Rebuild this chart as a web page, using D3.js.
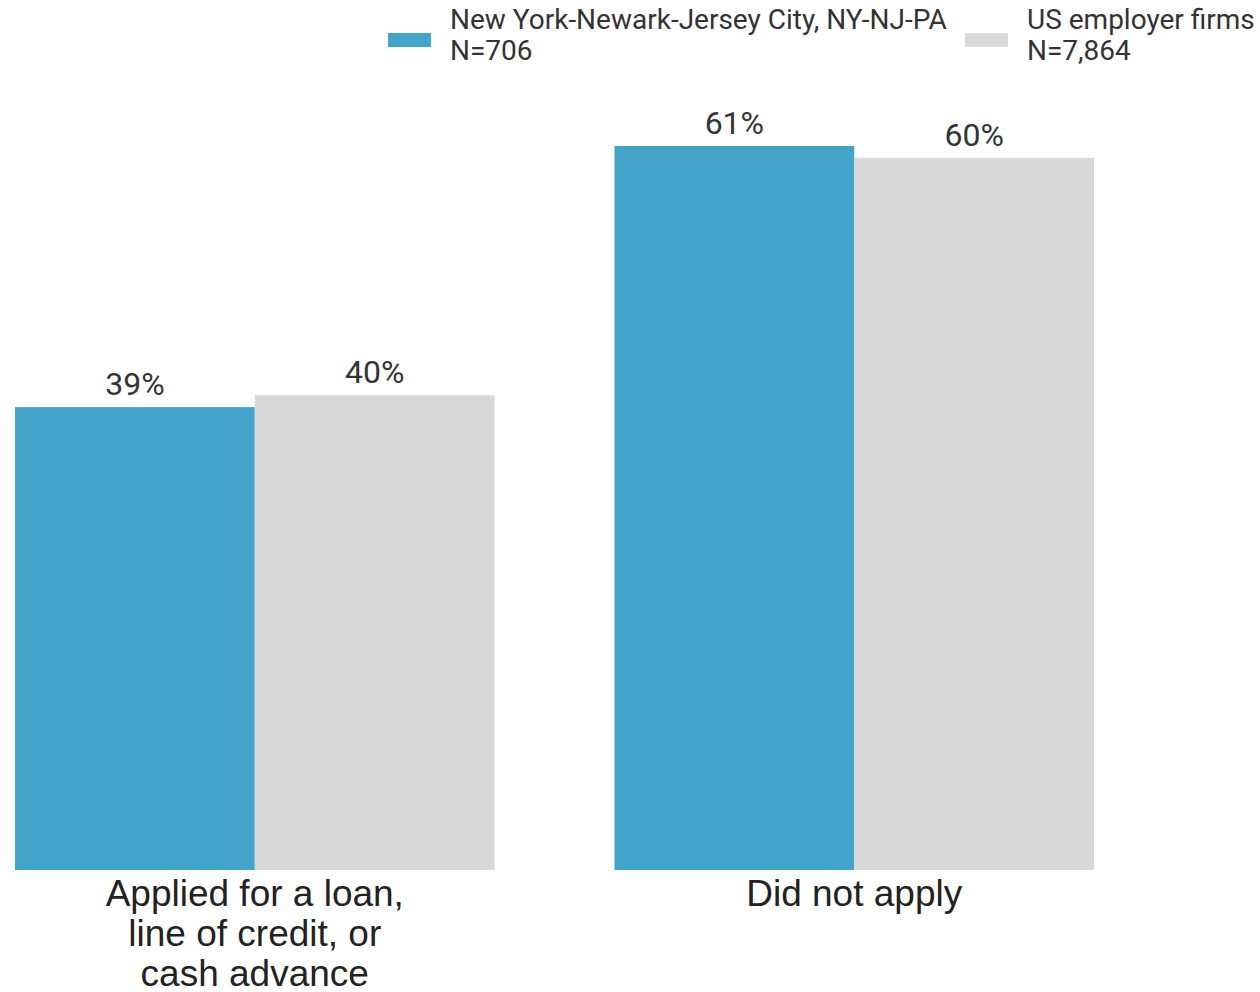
<!DOCTYPE html>
<html>
<head>
<meta charset="utf-8">
<script src="https://cdn.jsdelivr.net/npm/d3@7"></script>
<style>
  body { margin: 0; background: #fff; }
  svg { display: block; }
</style>
</head>
<body>
<div id="chart"></div>
<script>
// Data
const categories = ["Applied for a loan, line of credit, or cash advance", "Did not apply"];
const categoryLines = [["Applied for a loan,", "line of credit, or", "cash advance"], ["Did not apply"]];
const seriesNames = ["New York-Newark-Jersey City, NY-NJ-PA", "US employer firms"];
const seriesN = ["N=706", "N=7,864"];
const nyValues = [39, 61];
const usValues = [40, 60];
const colors = ["#43a3c8", "#d8d8d8"];

const width = 1260, height = 992;

const svg = d3.select("#chart")
  .append("svg")
  .attr("width", width)
  .attr("height", height);

// scales
const x0 = d3.scaleBand()
  .domain(categories)
  .range([15, 1094])
  .paddingInner(0.2)
  .paddingOuter(0);

const x1 = d3.scaleBand()
  .domain(seriesNames)
  .range([0, x0.bandwidth()]);

const y = d3.scaleLinear()
  .domain([0, 61])
  .range([870, 146]);

const rows = [];
categories.forEach((c, i) => {
  rows.push({cat: c, series: seriesNames[0], value: nyValues[i], color: colors[0]});
  rows.push({cat: c, series: seriesNames[1], value: usValues[i], color: colors[1]});
});

// bars
svg.selectAll(".bar")
  .data(rows)
  .enter()
  .append("rect")
  .attr("class", "bar")
  .attr("x", d => x0(d.cat) + x1(d.series))
  .attr("y", d => y(d.value))
  .attr("width", x1.bandwidth())
  .attr("height", d => y(0) - y(d.value))
  .attr("fill", d => d.color);

// value labels
svg.selectAll(".val")
  .data(rows)
  .enter()
  .append("text")
  .attr("class", "val")
  .attr("x", d => x0(d.cat) + x1(d.series) + x1.bandwidth() / 2)
  .attr("y", d => y(d.value) - 12)
  .attr("text-anchor", "middle")
  .style("font-family", "Roboto, sans-serif")
  .style("font-size", "32px")
  .style("fill", "#333")
  .text(d => d.value + "%");

// category labels
const catLabel = svg.selectAll(".cat")
  .data(categories)
  .enter()
  .append("text")
  .attr("class", "cat")
  .attr("x", d => x0(d) + x0.bandwidth() / 2)
  .attr("y", 906)
  .attr("text-anchor", "middle")
  .style("font-family", "'Liberation Sans', Arial, sans-serif")
  .style("font-size", "37px")
  .style("fill", "#222");

catLabel.each(function(d, i) {
  d3.select(this).selectAll("tspan")
    .data(categoryLines[i])
    .enter()
    .append("tspan")
    .attr("x", x0(d) + x0.bandwidth() / 2)
    .attr("dy", (t, j) => j === 0 ? 0 : 40)
    .text(t => t);
});

// legend
const legendX = [388, 965];
const legend = svg.selectAll(".legend")
  .data(seriesNames)
  .enter()
  .append("g")
  .attr("class", "legend")
  .attr("transform", (d, i) => `translate(${legendX[i]},0)`);

legend.append("rect")
  .attr("x", 0)
  .attr("y", 33)
  .attr("width", 43)
  .attr("height", 14)
  .attr("fill", (d, i) => colors[i]);

legend.append("text")
  .attr("x", 62)
  .attr("y", 29)
  .style("font-family", "Roboto, sans-serif")
  .style("font-size", "28px")
  .style("fill", "#333")
  .text(d => d);

legend.append("text")
  .attr("x", 62)
  .attr("y", 60)
  .style("font-family", "Roboto, sans-serif")
  .style("font-size", "28px")
  .style("fill", "#333")
  .text((d, i) => seriesN[i]);
</script>
</body>
</html>
